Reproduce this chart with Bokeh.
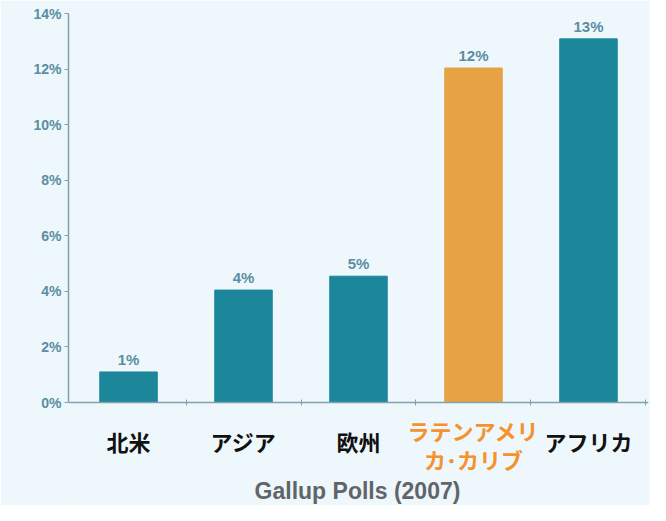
from bokeh.plotting import figure
from bokeh.models import ColumnDataSource, FixedTicker, Label, Range1d
from bokeh.core.properties import value
from bokeh.embed import file_html
from bokeh.resources import INLINE

categories = ["北米", "アジア", "欧州", "ラテンアメリ\nカ･カリブ", "アフリカ"]
values = [1.1, 4.05, 4.55, 12.05, 13.1]
value_labels = ["1%", "4%", "5%", "12%", "13%"]
y_ticks = [0, 2, 4, 6, 8, 10, 12, 14]
highlight = "ラテンアメリ\nカ･カリブ"
title_text = "Gallup Polls (2007)"

TEAL = "#1c879b"
ORANGE = "#e6a243"
ORANGE_TXT = "#f5922b"
BG = "#eef7fb"
AXIS = "#7fa2ad"
TICKTXT = "#5a8ea2"

xs = list(range(len(categories)))
colors = [ORANGE if c == highlight else TEAL for c in categories]
src = ColumnDataSource(dict(x=xs, top=values, color=colors, lab=value_labels))

YMAX = 14.05
YMIN = -103 / 390 * YMAX
p = figure(width=650, height=505, output_backend="svg", toolbar_location=None,
           x_range=Range1d(-0.522, 4.522), y_range=Range1d(YMIN, YMAX),
           min_border_left=68, min_border_right=2, min_border_top=12, min_border_bottom=0)
p.background_fill_color = BG
p.border_fill_color = BG
p.outline_line_color = None
p.xgrid.visible = False
p.ygrid.visible = False

p.vbar(x="x", top="top", bottom=0, width=0.5, color="color", source=src)
p.text(x="x", y="top", text="lab", source=src, text_align="center", text_baseline="bottom",
       y_offset=-4, text_font=value("Liberation Sans"), text_font_style="bold",
       text_font_size="15px", text_color=TICKTXT)

# y axis
ya = p.yaxis[0]
ya.bounds = (0, 14)
ya.ticker = FixedTicker(ticks=y_ticks)
ya.major_label_overrides = {t: f"{t}%" for t in y_ticks}
ya.axis_line_color = AXIS
ya.axis_line_width = 1.5
ya.major_tick_line_color = AXIS
ya.major_tick_in = 0
ya.major_tick_out = 4
ya.minor_tick_line_color = None
ya.major_label_text_font = "Liberation Sans"
ya.major_label_text_font_style = "bold"
ya.major_label_text_font_size = "14px"
ya.major_label_text_color = TICKTXT
ya.major_label_standoff = 3

# x axis at y = 0 (ticks at category boundaries, labels drawn separately)
xticks = [i + 0.5 for i in xs]
xa = p.xaxis[0]
xa.fixed_location = 0
xa.ticker = FixedTicker(ticks=xticks)
xa.major_label_overrides = {t: "" for t in xticks}
xa.axis_line_color = AXIS
xa.axis_line_width = 1.5
xa.major_tick_line_color = AXIS
xa.major_tick_in = 3
xa.major_tick_out = 3
xa.minor_tick_line_color = None

for i, c in enumerate(categories):
    lines = c.split("\n")
    color = ORANGE_TXT if c == highlight else "#111111"
    ys = [65] if len(lines) == 1 else [76, 47]
    for ln, yy in zip(lines, ys):
        p.add_layout(Label(x=i, y=yy, y_units="screen", text=ln, text_align="center",
                           text_baseline="middle", text_font="Noto Sans CJK JP",
                           text_font_style="bold", text_font_size="22px", text_color=color))

p.add_layout(Label(x=289, y=15, x_units="screen", y_units="screen", text=title_text,
                   text_align="center", text_baseline="middle", text_font="Liberation Sans",
                   text_font_style="bold", text_font_size="23px", text_color="#5f6568"))

open("out.html", "w").write(file_html(p, INLINE))
